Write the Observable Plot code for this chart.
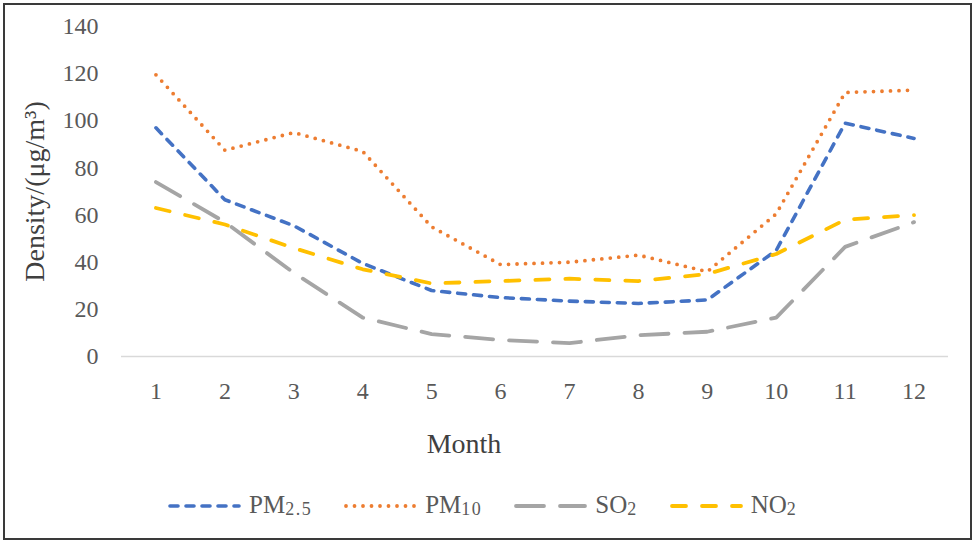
<!DOCTYPE html>
<html>
<head>
<meta charset="utf-8">
<script src="https://cdn.jsdelivr.net/npm/d3@7"></script>
<script src="https://cdn.jsdelivr.net/npm/@observablehq/plot@0.6"></script>
<style>
  body { margin: 0; background: #fff; }
  #wrap { position: relative; width: 975px; height: 544px; font-family: "Liberation Serif", "Times New Roman", serif; overflow: hidden; }
  #chart { position: absolute; left: 0; top: 0; }
  #frame { position: absolute; left: 3px; top: 3px; width: 969px; height: 537px; box-sizing: border-box; border: 2px solid #3a3a3a; pointer-events: none; }
  #legend { position: absolute; left: 167px; top: 494px; height: 24px; display: flex; align-items: center; color: #595959; font-size: 25px; line-height: 24px; }
  .item { display: flex; align-items: center; margin-right: 31px; }
  .item svg { margin-right: 7px; }
  .item sub { font-size: 18px; vertical-align: baseline; position: relative; top: 2px; letter-spacing: 1.5px; }
</style>
</head>
<body>
<div id="wrap">
  <div id="chart"></div>
  <div id="legend"></div>
  <div id="frame"></div>
</div>
<script>
// ---- data ----
const months = [1, 2, 3, 4, 5, 6, 7, 8, 9, 10, 11, 12];
const yTicks = [0, 20, 40, 60, 80, 100, 120, 140];
const pm25 = [97, 66.5, 55.5, 39.5, 28, 25, 23.5, 22.5, 24, 45, 99, 92.5];
const pm10 = [119.5, 87.5, 95, 87, 55, 39, 40, 43, 36, 60.5, 112, 113];
const so2  = [74, 57, 35.5, 16.5, 9.5, 7, 5.7, 9, 10.5, 16.5, 46.5, 57];
const no2  = [63, 56, 46, 37, 31, 32, 33, 32, 35, 43.5, 58, 60];
const xLabel = "Month";
const yLabel = "Density/(μg/m³)";

const series = [
  {main: "PM", sub: "2.5", values: pm25, color: "#4472C4", dash: "8,8", width: 3.6},
  {main: "PM", sub: "10",  values: pm10, color: "#ED7D31", dash: "0,8.5", width: 3.8},
  {main: "SO", sub: "2",   values: so2,  color: "#A5A5A5", dash: "28,16", width: 3.8},
  {main: "NO", sub: "2",   values: no2,  color: "#FFC000", dash: "14,16", width: 3.8}
];

const lineMarks = series.map(s => {
  const rows = months.map((m, i) => ({month: m, value: s.values[i]}));
  return Plot.line(rows, {
    x: "month", y: "value",
    stroke: s.color, strokeWidth: s.width, strokeDasharray: s.dash,
    strokeLinecap: "round", strokeLinejoin: "round"
  });
});

const chart = Plot.plot({
  width: 975,
  height: 475,
  marginLeft: 121,
  marginRight: 27,
  marginTop: 26,
  marginBottom: 119,
  style: {fontFamily: "'Liberation Serif', 'Times New Roman', serif", fontSize: "24px", color: "#595959", background: "transparent", overflow: "visible"},
  x: {domain: [0.5, 12.5]},
  y: {domain: [0, 140]},
  marks: [
    Plot.axisX({ticks: months, tickSize: 0, tickPadding: 25, label: null, tickFormat: d => String(d), fill: "#595959"}),
    Plot.axisY({ticks: yTicks, tickSize: 0, tickPadding: 23, label: null, fill: "#595959"}),
    Plot.ruleY([0], {stroke: "#d9d9d9", strokeWidth: 1.5}),
    ...lineMarks,
    Plot.text([xLabel], {frameAnchor: "bottom", dx: -71, dy: 96, fontSize: 28, fill: "#404040", textAnchor: "middle"}),
    Plot.text([yLabel], {frameAnchor: "left", dx: -86, rotate: -90, fontSize: 28, fill: "#404040", textAnchor: "middle"})
  ]
});
document.getElementById("chart").appendChild(chart);

// ---- legend ----
const legend = document.getElementById("legend");
series.forEach(s => {
  const item = document.createElement("div");
  item.className = "item";
  item.innerHTML =
    `<svg width="75" height="8"><line x1="3" x2="72" y1="4" y2="4" stroke="${s.color}" stroke-width="${s.width}" stroke-dasharray="${s.dash}" stroke-linecap="round"/></svg>` +
    `<span>${s.main}<sub>${s.sub}</sub></span>`;
  legend.appendChild(item);
});
</script>
</body>
</html>
